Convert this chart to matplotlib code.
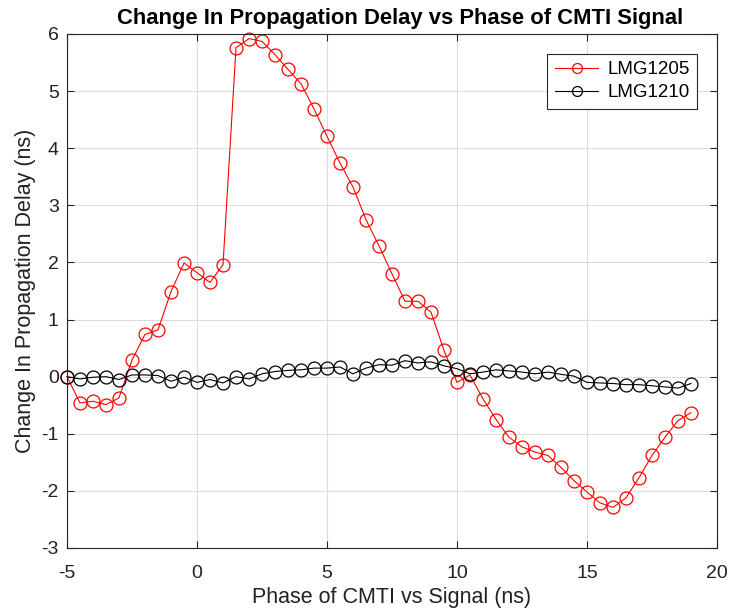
import matplotlib.pyplot as plt
import numpy as np

plt.rcParams['font.family'] = ['Liberation Sans', 'DejaVu Sans']
plt.rcParams['axes.unicode_minus'] = False

# phase (ns), every 0.5 ns from -5 to 19
phase = np.arange(-5, 19.01, 0.5)

lmg1205 = [0.0, -0.46, -0.43, -0.49, -0.37, 0.29, 0.74, 0.82, 1.49, 1.99,
           1.82, 1.65, 1.96, 5.76, 5.92, 5.87, 5.64, 5.38, 5.13, 4.69,
           4.21, 3.74, 3.32, 2.75, 2.29, 1.80, 1.32, 1.32, 1.13, 0.46,
           -0.10, 0.03, -0.39, -0.75, -1.06, -1.23, -1.32, -1.38, -1.59, -1.82,
           -2.02, -2.21, -2.29, -2.12, -1.77, -1.38, -1.06, -0.77, -0.63]

lmg1210 = [0.0, -0.04, -0.01, 0.0, -0.05, 0.03, 0.03, 0.02, -0.08, -0.01,
           -0.10, -0.05, -0.11, 0.0, -0.04, 0.05, 0.09, 0.11, 0.12, 0.15,
           0.15, 0.17, 0.05, 0.15, 0.21, 0.20, 0.28, 0.24, 0.26, 0.19,
           0.14, 0.05, 0.08, 0.12, 0.10, 0.08, 0.05, 0.08, 0.04, 0.01,
           -0.10, -0.11, -0.12, -0.14, -0.14, -0.16, -0.18, -0.20, -0.12]

fig = plt.figure(figsize=(7.3, 6.11), dpi=100)
ax = fig.add_axes([67/730, 1 - 548/611, 650/730, 514/611])

ax.plot(phase, lmg1205, color='red', lw=0.8, marker='o', ms=9.3,
        mfc='none', mec='red', mew=0.9, label='LMG1205', clip_on=False)
ax.plot(phase, lmg1210, color='black', lw=0.8, marker='o', ms=9.3,
        mfc='none', mec='black', mew=0.9, label='LMG1210', clip_on=False)

ax.set_xlim(-5, 20)
ax.set_ylim(-3, 6)
ax.set_xticks(np.arange(-5, 21, 5))
ax.set_yticks(np.arange(-3, 7, 1))
ax.grid(True, color='#dcdcdc', lw=0.8)
ax.set_axisbelow(True)
ax.tick_params(direction='in', top=True, right=True, labelsize=14,
               length=5, color='#262626', labelcolor='#222222')
ax.tick_params(axis='x', pad=12)
ax.tick_params(axis='y', pad=6)
for s in ax.spines.values():
    s.set_color('#262626')
    s.set_linewidth(0.8)

ax.set_title('Change In Propagation Delay vs Phase of CMTI Signal',
             fontsize=15.8, fontweight='bold', pad=7, x=0.512)
ax.set_xlabel('Phase of CMTI vs Signal (ns)', fontsize=15.5, labelpad=4,
              color='#222222')
ax.set_ylabel('Change In Propagation Delay (ns)', fontsize=15.5, labelpad=4,
              color='#222222')

leg = ax.legend(loc='upper right', fontsize=13.5, fancybox=False,
                framealpha=1, edgecolor='#262626', handlelength=2.3,
                borderaxespad=1.05, markerscale=0.77, labelspacing=0.3,
                handletextpad=0.5, borderpad=0.4)
leg.get_frame().set_linewidth(0.8)

fig.savefig('out.png', dpi=100)
